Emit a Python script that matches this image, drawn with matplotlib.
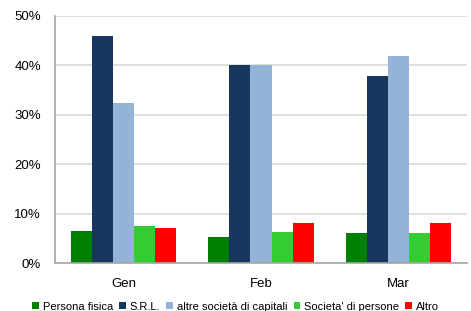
import numpy as np
import matplotlib
matplotlib.use("Agg")
import matplotlib.pyplot as plt
from matplotlib.ticker import FuncFormatter

plt.rcParams['font.family'] = ['Liberation Sans', 'DejaVu Sans']

months = ["Gen", "Feb", "Mar"]
series = ["Persona fisica", "S.R.L.", "altre società di capitali", "Societa' di persone", "Altro"]
persona_fisica = [6.5, 5.2, 6.0]
srl = [45.9, 40.1, 37.8]
altre_capitali = [32.3, 40.1, 41.9]
societa_persone = [7.5, 6.2, 6.1]
altro = [7.0, 8.0, 8.0]
colors = ["#008000", "#17375E", "#95B3D7", "#33CC33", "#FF0000"]

values = [persona_fisica, srl, altre_capitali, societa_persone, altro]

fig = plt.figure(figsize=(4.71, 3.11), dpi=100)
ax = fig.add_axes([55 / 471, 1 - 263 / 311, 412 / 471, 247 / 311])

x = np.arange(len(months))
w = 0.153
for i, (vals, name, col) in enumerate(zip(values, series, colors)):
    ax.bar(x + (i - 2) * w, vals, w, color=col, label=name)

ax.set_xlim(-0.5, 2.5)
ax.set_ylim(0, 50)
ax.set_yticks(range(0, 51, 10))
ax.yaxis.set_major_formatter(FuncFormatter(lambda v, p: f"{int(v)}%"))
ax.set_xticks(x)
ax.set_xticklabels(months)
ax.tick_params(axis='both', length=0, labelsize=9.5)
ax.tick_params(axis='x', pad=11)
ax.tick_params(axis='y', pad=10)
ax.yaxis.grid(True, color="#D9D9D9", linewidth=1.2)
ax.set_axisbelow(True)
for s in ["top", "right"]:
    ax.spines[s].set_visible(False)
for s in ["left", "bottom"]:
    ax.spines[s].set_color("#A6A6A6")
    ax.spines[s].set_linewidth(1.2)

fig.legend(loc="lower center", bbox_to_anchor=(0.5, -0.02), ncol=5, frameon=False,
           fontsize=8, handlelength=0.6, handleheight=0.6, handletextpad=0.35,
           columnspacing=0.55, borderaxespad=0.1)

fig.savefig("out.png", dpi=100)
